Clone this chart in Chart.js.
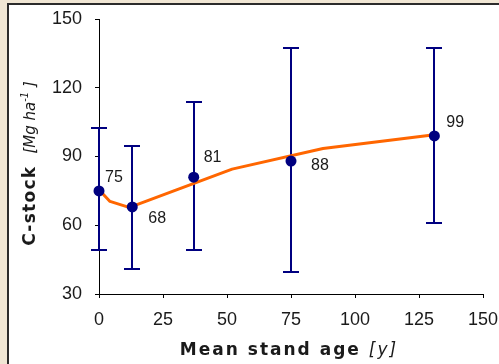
<!DOCTYPE html>
<html>
<head>
<meta charset="utf-8">
<script src="https://cdn.jsdelivr.net/npm/chart.js@4/dist/chart.umd.min.js"></script>
<style>
  html, body { margin: 0; padding: 0; width: 499px; height: 364px; overflow: hidden; background: #f0e6d4; }
  #panel { position: absolute; left: 7px; top: 3px; width: 600px; height: 500px; background: #fff;
           border-left: 2px solid #2b2b2b; border-top: 2px solid #2b2b2b; }
  #c { position: absolute; left: 0; top: 0; }
</style>
</head>
<body>
<div id="panel"></div>
<canvas id="c" width="499" height="364"></canvas>
<script>
// Mean stand age [y] and measured carbon stock [Mg ha-1]
const standAges   = [0, 13, 37, 75, 131];
const carbonStock = [75, 68, 81, 88, 99];
// lower / upper ends of the spread around each mean
const stockLow  = [49, 41, 49, 39.5, 61];
const stockHigh = [102.5, 94.5, 114, 137.5, 137.5];
// smoothed trend of carbon stock with age
const trendAges  = [0, 4.3, 10.8, 13, 52, 87.5, 131];
const trendStock = [75.5, 70.4, 68.1, 68.2, 84.5, 93.5, 99.5];
// axis ticks
const xTicks = [0, 25, 50, 75, 100, 125, 150];
const yTicks = [30, 60, 90, 120, 150];

const NAVY = '#000080';
const ORANGE = '#ff6600';
const TEXT = '#1a1a1a';

// where each value label sits relative to its point (dx to left edge, dy to middle)
const labelOffsets = [[6, -13], [16, 12], [10, -20], [20, 5], [12, -13]];

const errorBars = {
  id: 'errorBars',
  beforeDatasetsDraw(chart) {
    const { ctx, scales: { x, y } } = chart;
    ctx.save();
    ctx.strokeStyle = NAVY;
    ctx.lineWidth = 2;
    standAges.forEach((age, i) => {
      const px = Math.round(x.getPixelForValue(age));
      const top = Math.round(y.getPixelForValue(stockHigh[i]));
      const bot = Math.round(y.getPixelForValue(stockLow[i]));
      ctx.beginPath();
      ctx.moveTo(px, top); ctx.lineTo(px, bot);
      ctx.moveTo(px - 8, top); ctx.lineTo(px + 8, top);
      ctx.moveTo(px - 8, bot); ctx.lineTo(px + 8, bot);
      ctx.stroke();
    });
    ctx.restore();
  }
};

const valueLabels = {
  id: 'valueLabels',
  afterDatasetsDraw(chart) {
    const { ctx, scales: { x, y } } = chart;
    ctx.save();
    ctx.font = '16px "Liberation Sans", Arial, sans-serif';
    ctx.fillStyle = TEXT;
    ctx.textAlign = 'left';
    ctx.textBaseline = 'middle';
    standAges.forEach((age, i) => {
      const px = x.getPixelForValue(age);
      const py = y.getPixelForValue(carbonStock[i]);
      ctx.fillText(String(carbonStock[i]), px + labelOffsets[i][0], py + labelOffsets[i][1]);
    });
    ctx.restore();
  }
};

// draws a run of differently styled text pieces along one baseline
function runWidth(ctx, runs) {
  let w = 0;
  runs.forEach(r => { ctx.font = r.font; ctx.letterSpacing = (r.ls || 0) + 'px'; w += ctx.measureText(r.text).width + (r.gap || 0); });
  return w;
}
function drawRuns(ctx, runs, x0, y0) {
  let x = x0;
  runs.forEach(r => {
    ctx.font = r.font;
    ctx.letterSpacing = (r.ls || 0) + 'px';
    ctx.fillText(r.text, x, y0 + (r.dy || 0));
    x += ctx.measureText(r.text).width + (r.gap || 0);
  });
}

const axisTitles = {
  id: 'axisTitles',
  afterDraw(chart) {
    const { ctx } = chart;
    ctx.save();
    ctx.fillStyle = TEXT;
    ctx.textAlign = 'left';
    ctx.textBaseline = 'alphabetic';

    const xRuns = [
      { text: 'Mean stand age', font: 'bold 17px "DejaVu Sans", Verdana, sans-serif', ls: 2, gap: 8 },
      { text: '[y]', font: 'italic 17px "DejaVu Sans", Verdana, sans-serif', ls: 2 }
    ];
    const xw = runWidth(ctx, xRuns);
    drawRuns(ctx, xRuns, 289 - xw / 2, 355);

    const yRuns = [
      { text: 'C-stock', font: 'bold 17px "DejaVu Sans", Verdana, sans-serif', ls: 1.3, gap: 12 },
      { text: '[Mg ha', font: 'italic 15px "DejaVu Sans", Verdana, sans-serif' },
      { text: '-1', font: 'italic 10px "DejaVu Sans", Verdana, sans-serif', dy: -7 },
      { text: ' ]', font: 'italic 15px "DejaVu Sans", Verdana, sans-serif' }
    ];
    const yw = runWidth(ctx, yRuns);
    ctx.translate(35, 163.5 + yw / 2);
    ctx.rotate(-Math.PI / 2);
    drawRuns(ctx, yRuns, 0, 0);
    ctx.restore();
  }
};

const tickFont = { family: '"Liberation Sans", Arial, sans-serif', size: 18 };

// keep the plot area fixed: no extra room reserved for overhanging tick labels
function fixPadding(s) {
  s.paddingLeft = 0; s.paddingRight = 0; s.paddingTop = 0; s.paddingBottom = 0;
}

new Chart(document.getElementById('c'), {
  type: 'scatter',
  data: {
    datasets: [
      {
        label: 'C-stock',
        data: standAges.map((a, i) => ({ x: a, y: carbonStock[i] })),
        backgroundColor: NAVY,
        borderColor: NAVY,
        pointRadius: 5.5,
        pointBorderWidth: 0,
        showLine: false,
        clip: false,
        order: 0
      },
      {
        label: 'Trend',
        data: trendAges.map((a, i) => ({ x: a, y: trendStock[i] })),
        borderColor: ORANGE,
        borderWidth: 3,
        pointRadius: 0,
        showLine: true,
        tension: 0,
        borderJoinStyle: 'round',
        borderCapStyle: 'round',
        clip: false,
        order: 1
      }
    ]
  },
  options: {
    responsive: false,
    animation: false,
    devicePixelRatio: 1,
    layout: { padding: { top: 19, right: 16, left: 0, bottom: 0 } },
    plugins: { legend: { display: false }, tooltip: { enabled: false } },
    scales: {
      x: {
        type: 'linear',
        min: 0, max: 150,
        afterBuildTicks: s => { s.ticks = xTicks.map(v => ({ value: v })); },
        afterFit: s => { s.height = 70; fixPadding(s); },
        ticks: { font: tickFont, color: TEXT, padding: 11, maxRotation: 0 },
        grid: { drawOnChartArea: false, drawTicks: true, tickLength: 4, color: '#000', tickColor: '#000', tickWidth: 1 },
        border: { display: true, color: '#000', width: 1 }
      },
      y: {
        type: 'linear',
        min: 30, max: 150,
        afterBuildTicks: s => { s.ticks = yTicks.map(v => ({ value: v })); },
        afterFit: s => { s.width = 99; fixPadding(s); },
        ticks: { font: tickFont, color: TEXT, padding: 13 },
        grid: { drawOnChartArea: false, drawTicks: true, tickLength: 4, color: '#000', tickColor: '#000', tickWidth: 1 },
        border: { display: true, color: '#000', width: 1 }
      }
    }
  },
  plugins: [errorBars, valueLabels, axisTitles]
});
</script>
</body>
</html>
